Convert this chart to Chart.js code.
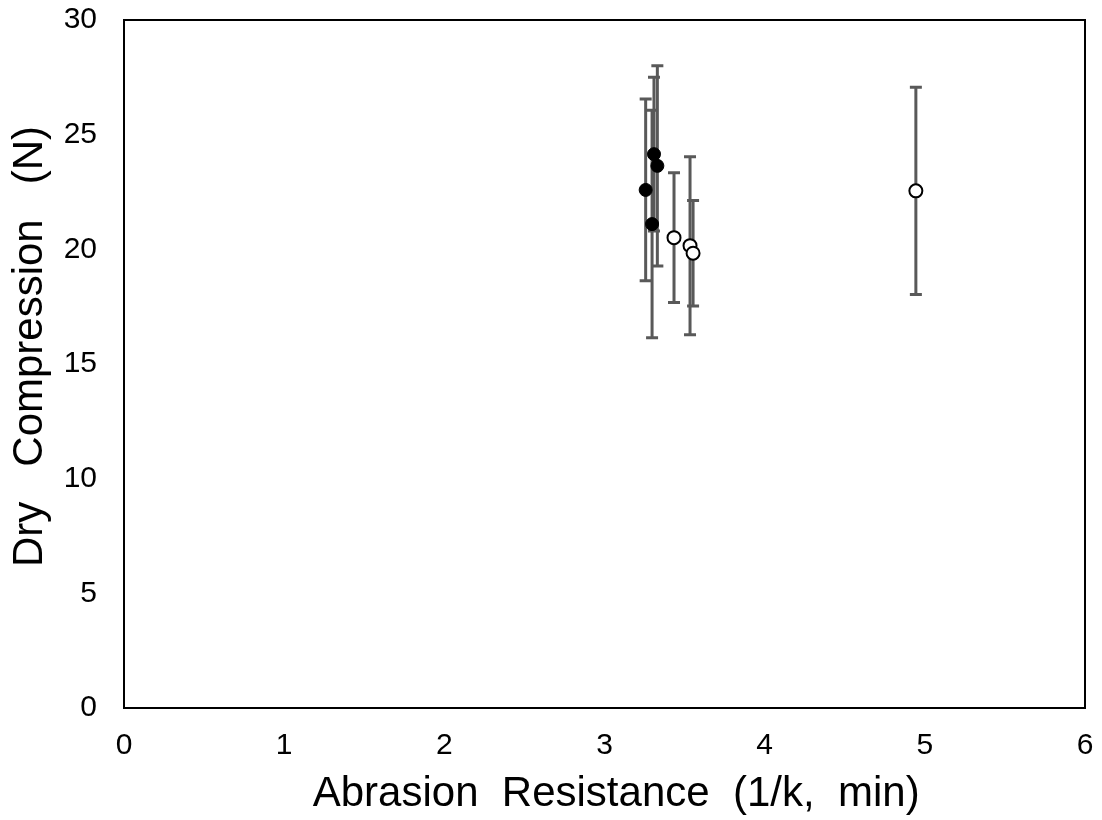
<!DOCTYPE html>
<html>
<head>
<meta charset="utf-8">
<script src="https://cdn.jsdelivr.net/npm/chart.js@4.4.0/dist/chart.umd.min.js"></script>
<style>
    html, body { margin: 0; padding: 0; background: #fff; }
    #wrap { width: 1102px; height: 820px; }
</style>
</head>
<body>
<div id="wrap"><canvas id="cv"></canvas></div>
<script>
// filled markers
var filledX = [3.309, 3.330, 3.257, 3.297];
var filledY = [24.15, 23.64, 22.59, 21.10];
var filledErr = [3.35, 4.37, 3.96, 4.96];

// open markers
var openX = [3.434, 3.534, 3.553, 4.944];
var openY = [20.51, 20.16, 19.83, 22.55];
var openErr = [2.83, 3.88, 2.30, 4.52];

var xTicks = [0, 1, 2, 3, 4, 5, 6];
var yTicks = [0, 5, 10, 15, 20, 25, 30];

function toPoints(xs, ys, errs) {
    var pts = [];
    for (var i = 0; i < xs.length; i++) {
        pts.push({ x: xs[i], y: ys[i], err: errs[i] });
    }
    return pts;
}

// error bars drawn under the markers, box drawn last
var errorBars = {
    id: 'errorBars',
    beforeDatasetsDraw: function (chart) {
        var ctx = chart.ctx,
            xs = chart.scales.x,
            ys = chart.scales.y;
        ctx.save();
        ctx.strokeStyle = '#595959';
        ctx.lineWidth = 3;
        chart.data.datasets.forEach(function (ds) {
            ds.data.forEach(function (p) {
                var px = xs.getPixelForValue(p.x),
                    top = ys.getPixelForValue(p.y + p.err),
                    bot = ys.getPixelForValue(p.y - p.err);
                ctx.beginPath();
                ctx.moveTo(px, top);
                ctx.lineTo(px, bot);
                ctx.moveTo(px - 6, top);
                ctx.lineTo(px + 6, top);
                ctx.moveTo(px - 6, bot);
                ctx.lineTo(px + 6, bot);
                ctx.stroke();
            });
        });
        ctx.restore();
    },
    afterDraw: function (chart) {
        var a = chart.chartArea, ctx = chart.ctx;
        ctx.save();
        ctx.strokeStyle = '#000';
        ctx.lineWidth = 2;
        ctx.strokeRect(a.left, a.top, a.right - a.left, a.bottom - a.top);
        ctx.restore();
    }
};

var font = 'Liberation Sans, Arial, sans-serif';

new Chart(document.getElementById('cv'), {
    type: 'scatter',
    data: {
        datasets: [
            {
                data: toPoints(filledX, filledY, filledErr),
                pointRadius: 6.5,
                pointBackgroundColor: '#000',
                pointBorderColor: '#000',
                pointBorderWidth: 1
            },
            {
                data: toPoints(openX, openY, openErr),
                pointRadius: 6.5,
                pointBackgroundColor: '#fff',
                pointBorderColor: '#000',
                pointBorderWidth: 2
            }
        ]
    },
    options: {
        responsive: true,
        maintainAspectRatio: false,
        animation: false,
        layout: { padding: { top: 20, right: 17, left: 0, bottom: 0 } },
        plugins: { legend: { display: false }, tooltip: { enabled: false } },
        scales: {
            x: {
                type: 'linear',
                min: 0,
                max: 6,
                afterBuildTicks: function (s) { s.ticks = xTicks.map(function (v) { return { value: v }; }); },
                afterFit: function (s) {
                    s.height = 112;
                    s.paddingLeft = 0;
                    s.paddingRight = 0;
                },
                grid: { display: false, drawTicks: false },
                border: { display: false },
                ticks: { color: '#000', padding: 20, font: { family: font, size: 30 } },
                title: {
                    display: true,
                    text: '  Abrasion  Resistance  (1/k,  min)',
                    color: '#000',
                    padding: 0,
                    font: { family: font, size: 42 }
                }
            },
            y: {
                type: 'linear',
                min: 0,
                max: 30,
                afterBuildTicks: function (s) { s.ticks = yTicks.map(function (v) { return { value: v }; }); },
                afterFit: function (s) {
                    s.width = 124;
                    s.paddingTop = 0;
                    s.paddingBottom = 0;
                },
                grid: { display: false, drawTicks: false },
                border: { display: false },
                ticks: { color: '#000', padding: 27, font: { family: font, size: 30 } },
                title: {
                    display: true,
                    text: '   Dry   Compression   (N)',
                    color: '#000',
                    padding: { top: 5, bottom: 0 },
                    font: { family: font, size: 42 }
                }
            }
        }
    },
    plugins: [errorBars]
});
</script>
</body>
</html>
